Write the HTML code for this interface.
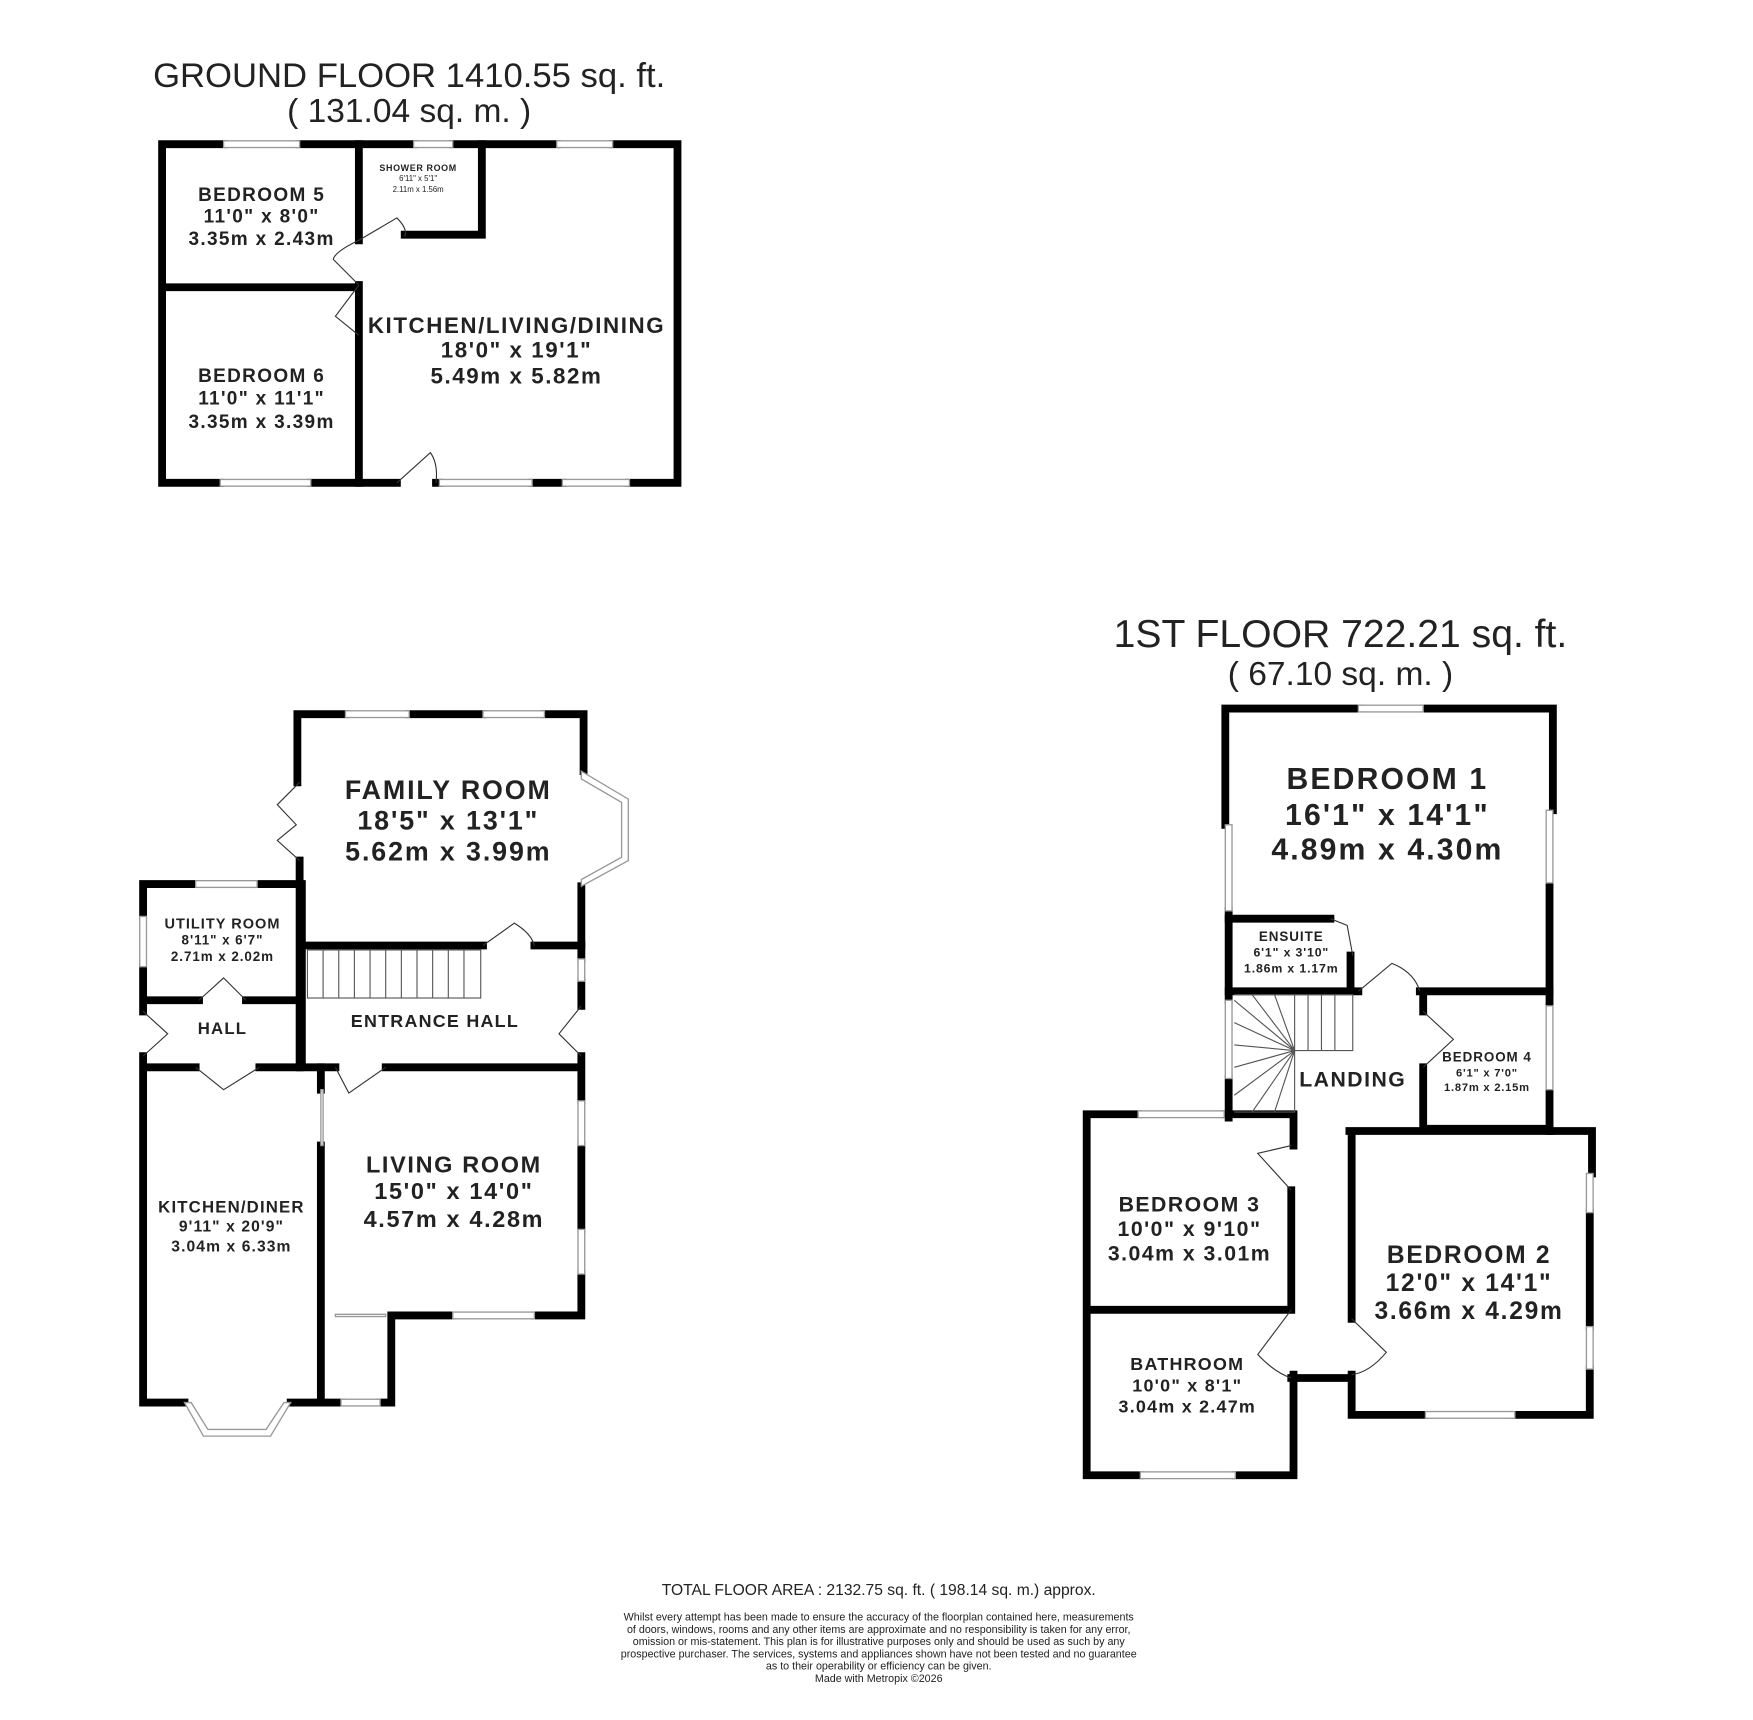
<!DOCTYPE html>
<html><head><meta charset="utf-8"><style>
html,body{margin:0;padding:0;background:#fff;}
svg{display:block;}
text{font-family:"Liberation Sans",Arial,sans-serif;fill:#222;}
.b{font-weight:bold;letter-spacing:0.07em;}
</style></head><body>
<svg width="1753" height="1720" viewBox="0 0 1568 1539" preserveAspectRatio="none" xmlns="http://www.w3.org/2000/svg">
<g fill="none" stroke="#000" stroke-width="7" stroke-linecap="square">
<path d="M200,129 H145 V432 H197 M278,432 H355 M390,432 H393 M476,432 H503 M563,432 H606 V129 H548 M498,129 H405 M370,129 H268"/>
<path d="M321,129 V215 M321,255 V432 M147,257 H321 M431,129 V210 H362"/>
<path d="M309,639 H266 V700 M268,770 V955 M366,639 H432 M487,639 H522 V690 M520,793 V858 M520,878 V900 M520,945 V985 M520,1025 V1100 M520,1140 V1177 H478 M405,1177 H350 V1255 H340 M305,1255 H287 V1025 M287,975 V955 H300 M345,955 H520"/>
<path d="M270,846 H432 M478,846 H520"/>
<path d="M175,791 H128 V820 M128,865 V905 M128,945 V1255 H165 M260,1255 H287 M230,791 H270 V955 M128,895 H178 M220,895 H270 M128,955 H175 M232,955 H287"/>
<path d="M1215,634 H1096 V738 M1099,815 V895 M1099,965 V1000 M1273,634 H1389 V725 M1386,790 V900 M1386,975 V1012"/>
<path d="M1099,822 H1190 M1208,855 V887 M1099,887 H1215 M1270,887 H1386 M1273,887 V905 M1273,955 V1010 H1386"/>
<path d="M1207,1012 H1424 V1050 M1422,1085 V1187 M1422,1225 V1266 H1355 M1275,1266 H1209 V1230 M1209,1180 V1012"/>
<path d="M1018,997 H972 V1320 H1020 M1105,1320 H1157 V1230 M1095,997 H1157 V1025 M1155,1065 V1172 M972,1172 H1155 M1155,1233 H1207"/>
</g>
<g fill="#fff" stroke="#999" stroke-width="1.2">
<rect x="200" y="126" width="68" height="6"/><rect x="370" y="126" width="35" height="6"/><rect x="498" y="126" width="50" height="6"/>
<rect x="197" y="429" width="81" height="6"/><rect x="393" y="429" width="83" height="6"/><rect x="503" y="429" width="60" height="6"/>
<rect x="309" y="636" width="57" height="6"/><rect x="432" y="636" width="55" height="6"/>
<rect x="517" y="858" width="6" height="20"/><rect x="517" y="985" width="6" height="40"/><rect x="517" y="1100" width="6" height="40"/>
<rect x="405" y="1174" width="73" height="6"/><rect x="305" y="1252" width="35" height="6"/><rect x="175" y="788" width="55" height="6"/>
<rect x="125" y="820" width="6" height="45"/>
<rect x="1215" y="631" width="58" height="6"/><rect x="1096" y="738" width="6" height="77"/><rect x="1096" y="895" width="6" height="70"/>
<rect x="1383" y="725" width="6" height="65"/><rect x="1383" y="900" width="6" height="75"/>
<rect x="1419" y="1050" width="6" height="35"/><rect x="1419" y="1187" width="6" height="38"/><rect x="1275" y="1263" width="80" height="6"/>
<rect x="1018" y="994" width="77" height="6"/><rect x="1020" y="1317" width="85" height="6"/>
<polygon points="520,690 562,715 562,770 520,793 520,787 556,767 556,718 520,697"/>
<polygon points="165,1255 182,1285 242,1285 260,1255 254,1255 238,1279 186,1279 171,1255"/>
<rect x="287" y="975" width="2" height="50"/><rect x="300" y="1176" width="45" height="2"/>
</g>
<g fill="none" stroke="#333" stroke-width="1">
<path d="M321,215 L355,195 Q365,205 362,212 M321,255 L298,232 M321,215 Q300,225 298,232"/>
<path d="M321,255 L300,283 L321,300 M355,432 L385,405 Q392,415 390,432"/>
<path d="M268,700 L248,720 L265,738 L248,752 L268,770"/>
<path d="M432,846 L460,826 Q475,835 478,846"/>
<path d="M520,900 L500,925 L520,945"/>
<path d="M300,955 L312,978 L345,955 M175,955 L200,975 L232,955 M178,895 L200,875 L220,895 M128,905 L150,925 L128,945"/>
<path d="M1190,822 L1205,828 L1210,855"/>
<path d="M1215,887 L1245,862 Q1265,870 1270,887"/>
<path d="M1273,905 L1300,930 L1273,955"/>
<path d="M1155,1025 L1125,1032 L1155,1065"/>
<path d="M1155,1172 L1125,1212 Q1140,1228 1155,1233 M1209,1180 L1240,1210 Q1225,1228 1209,1230"/>
</g>
<g fill="none" stroke="#555" stroke-width="1">
<rect x="275" y="850" width="155" height="43"/>
<path d="M289,850V893M303,850V893M317,850V893M331,850V893M345,850V893M359,850V893M373,850V893M387,850V893M401,850V893M415,850V893"/>
<path d="M1158,890 H1210 V940 H1158 M1170,890V940 M1182,890V940 M1194,890V940"/>
<path d="M1104,890 H1158 V995 H1104 M1158,940 L1104,895 M1158,940 L1120,890 M1158,940 L1140,890 M1158,940 L1104,915 M1158,940 L1104,935 M1158,940 L1104,955 M1158,940 L1104,980 M1158,940 L1120,995 M1158,940 L1140,995"/>
</g>
<text x="366" y="78" font-size="31" text-anchor="middle">GROUND FLOOR 1410.55 sq. ft.</text>
<text x="366" y="109" font-size="30" text-anchor="middle">( 131.04 sq. m. )</text>
<text x="1199" y="579" font-size="35" text-anchor="middle">1ST FLOOR 722.21 sq. ft.</text>
<text x="1199" y="613" font-size="30" text-anchor="middle">( 67.10 sq. m. )</text>
<g text-anchor="middle">
<text x="234" y="180" font-size="17" class="b">BEDROOM 5</text><text x="234" y="199" font-size="17" class="b">11'0" x 8'0"</text><text x="234" y="219" font-size="17" class="b">3.35m x 2.43m</text>
<text x="374" y="153" font-size="8" class="b">SHOWER ROOM</text><text x="374" y="162" font-size="7">6'11" x 5'1"</text><text x="374" y="172" font-size="7">2.11m x 1.56m</text>
<text x="462" y="298" font-size="20" class="b">KITCHEN/LIVING/DINING</text><text x="462" y="320" font-size="20" class="b">18'0" x 19'1"</text><text x="462" y="343" font-size="20" class="b">5.49m x 5.82m</text>
<text x="234" y="342" font-size="17" class="b">BEDROOM 6</text><text x="234" y="362" font-size="17" class="b">11'0" x 11'1"</text><text x="234" y="383" font-size="17" class="b">3.35m x 3.39m</text>
<text x="401" y="715" font-size="24" class="b">FAMILY ROOM</text><text x="401" y="742" font-size="24" class="b">18'5" x 13'1"</text><text x="401" y="770" font-size="24" class="b">5.62m x 3.99m</text>
<text x="199" y="831" font-size="13" class="b">UTILITY ROOM</text><text x="199" y="845" font-size="12" class="b">8'11" x 6'7"</text><text x="199" y="860" font-size="12" class="b">2.71m x 2.02m</text>
<text x="199" y="925" font-size="15" class="b">HALL</text>
<text x="389" y="919" font-size="16" class="b">ENTRANCE HALL</text>
<text x="406" y="1049" font-size="21" class="b">LIVING ROOM</text><text x="406" y="1073" font-size="21" class="b">15'0" x 14'0"</text><text x="406" y="1098" font-size="21" class="b">4.57m x 4.28m</text>
<text x="207" y="1085" font-size="15" class="b">KITCHEN/DINER</text><text x="207" y="1102" font-size="14" class="b">9'11" x 20'9"</text><text x="207" y="1120" font-size="14" class="b">3.04m x 6.33m</text>
<text x="1241" y="706" font-size="27" class="b">BEDROOM 1</text><text x="1241" y="738" font-size="27" class="b">16'1" x 14'1"</text><text x="1241" y="769" font-size="27" class="b">4.89m x 4.30m</text>
<text x="1155" y="842" font-size="12" class="b">ENSUITE</text><text x="1155" y="856" font-size="11" class="b">6'1" x 3'10"</text><text x="1155" y="870" font-size="11" class="b">1.86m x 1.17m</text>
<text x="1210" y="972" font-size="19" class="b">LANDING</text>
<text x="1330" y="950" font-size="12" class="b">BEDROOM 4</text><text x="1330" y="963" font-size="10" class="b">6'1" x 7'0"</text><text x="1330" y="976" font-size="10" class="b">1.87m x 2.15m</text>
<text x="1064" y="1084" font-size="19" class="b">BEDROOM 3</text><text x="1064" y="1106" font-size="19" class="b">10'0" x 9'10"</text><text x="1064" y="1128" font-size="19" class="b">3.04m x 3.01m</text>
<text x="1314" y="1130" font-size="22" class="b">BEDROOM 2</text><text x="1314" y="1155" font-size="22" class="b">12'0" x 14'1"</text><text x="1314" y="1180" font-size="22" class="b">3.66m x 4.29m</text>
<text x="1062" y="1226" font-size="16" class="b">BATHROOM</text><text x="1062" y="1245" font-size="16" class="b">10'0" x 8'1"</text><text x="1062" y="1264" font-size="16" class="b">3.04m x 2.47m</text>
</g>
<g text-anchor="middle">
<text x="786" y="1427" font-size="14">TOTAL FLOOR AREA : 2132.75 sq. ft. ( 198.14 sq. m.) approx.</text>
<g font-size="9.6" fill="#555">
<text x="786" y="1450">Whilst every attempt has been made to ensure the accuracy of the floorplan contained here, measurements</text>
<text x="786" y="1461">of doors, windows, rooms and any other items are approximate and no responsibility is taken for any error,</text>
<text x="786" y="1472">omission or mis-statement. This plan is for illustrative purposes only and should be used as such by any</text>
<text x="786" y="1483">prospective purchaser. The services, systems and appliances shown have not been tested and no guarantee</text>
<text x="786" y="1494">as to their operability or efficiency can be given.</text>
<text x="786" y="1505">Made with Metropix ©2026</text>
</g></g>
</svg>
</body></html>
